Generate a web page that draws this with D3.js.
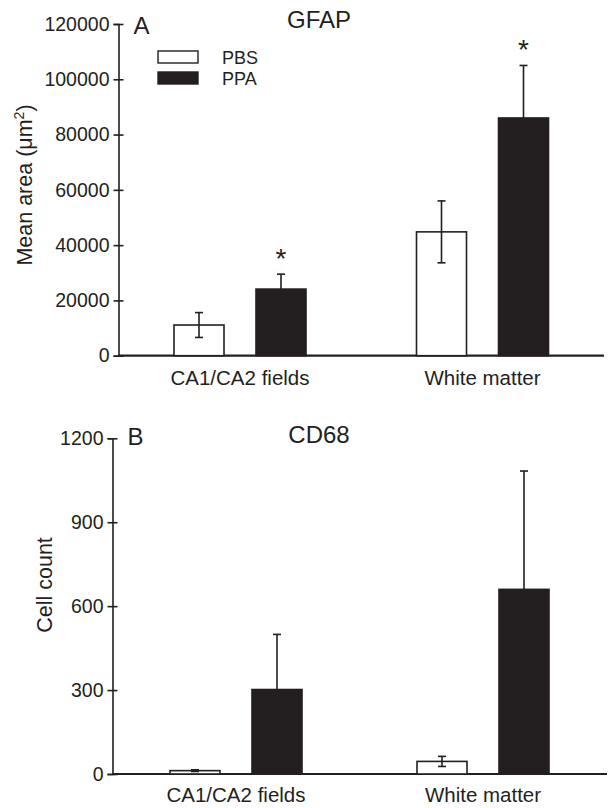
<!DOCTYPE html>
<html>
<head>
<meta charset="utf-8">
<script src="https://cdn.jsdelivr.net/npm/d3@7"></script>
<style>
  body { margin: 0; background: #fff; }
  svg text { font-family: "Liberation Sans", Arial, sans-serif; fill: #231f20; }
</style>
</head>
<body>
<div id="chart"></div>
<script>
// data
var regions = ["CA1/CA2 fields", "White matter"];
var groups = ["PBS", "PPA"];

// panel A - GFAP mean area
var gfapMean = [[11100, 24100], [44800, 86000]];
var gfapErr  = [[4500, 5400], [11200, 19000]];
var gfapStar = [[false, true], [false, true]];
var gfapTicks = [0, 20000, 40000, 60000, 80000, 100000, 120000];

// panel B - CD68 cell count
var cd68Mean = [[12, 302], [45, 660]];
var cd68Err  = [[3, 197], [18, 423]];
var cd68Star = [[false, false], [false, false]];
var cd68Ticks = [0, 300, 600, 900, 1200];

var ink = "#231f20";
var W = 611, H = 808;

var svg = d3.select("#chart").append("svg")
  .attr("width", W).attr("height", H);

function panel(opt) {
  var g = svg.append("g");
  var y = d3.scaleLinear().domain([0, opt.max]).range([opt.y0, opt.y1]);
  var x0 = d3.scalePoint().domain(regions).range(opt.groupRange);
  var x1 = d3.scalePoint().domain(groups).range([-41, 41]);
  var bw = 50;

  // y axis
  var axis = d3.axisLeft(y).tickValues(opt.ticks).tickSize(5).tickPadding(6)
    .tickFormat(d3.format("d"));
  var ag = g.append("g").attr("transform", "translate(" + opt.axisX + ",0)").call(axis);
  ag.select(".domain").attr("stroke", ink).attr("stroke-width", 1.6);
  ag.selectAll(".tick line").attr("stroke", ink).attr("stroke-width", 1.6).attr("x2", 5).attr("x1", -5);
  ag.selectAll(".tick text").style("font-size", "19.5px").attr("x", -9).style("fill", ink);

  // baseline
  g.append("line")
    .attr("x1", opt.axisX).attr("x2", opt.baseEnd)
    .attr("y1", y(0)).attr("y2", y(0))
    .attr("stroke", ink).attr("stroke-width", 2.2);

  var rows = [];
  regions.forEach(function(r, i) {
    groups.forEach(function(s, j) {
      rows.push({region: r, group: s, m: opt.mean[i][j], e: opt.err[i][j], star: opt.star[i][j]});
    });
  });

  var bars = g.selectAll(".bar").data(rows).enter().append("g");
  bars.append("rect")
    .attr("x", function(d) { return x0(d.region) + x1(d.group) - bw / 2; })
    .attr("y", function(d) { return y(d.m); })
    .attr("width", bw)
    .attr("height", function(d) { return y(0) - y(d.m); })
    .attr("fill", function(d) { return d.group == "PPA" ? ink : "#fff"; })
    .attr("stroke", ink).attr("stroke-width", 1.6);

  // error bars: PBS both ways, PPA upward only
  bars.each(function(d) {
    var cx = x0(d.region) + x1(d.group);
    var top = y(d.m + d.e);
    var bot = d.group == "PPA" ? y(d.m) : y(d.m - d.e);
    var s = d3.select(this);
    s.append("line").attr("x1", cx).attr("x2", cx).attr("y1", top).attr("y2", bot)
      .attr("stroke", ink).attr("stroke-width", 1.6);
    s.append("line").attr("x1", cx - 4).attr("x2", cx + 4).attr("y1", top).attr("y2", top)
      .attr("stroke", ink).attr("stroke-width", 1.6);
    if (d.group == "PBS")
      s.append("line").attr("x1", cx - 4).attr("x2", cx + 4).attr("y1", bot).attr("y2", bot)
        .attr("stroke", ink).attr("stroke-width", 1.6);
    if (d.star)
      s.append("text").attr("x", cx).attr("y", top - 6)
        .attr("text-anchor", "middle").style("font-size", "28px").text("*");
  });

  // category labels
  g.selectAll(".cat").data(regions).enter().append("text")
    .attr("x", function(d) { return x0(d); })
    .attr("y", opt.catY)
    .attr("text-anchor", "middle").style("font-size", "20.5px")
    .text(function(d) { return d; });

  // panel letter and title
  g.append("text").attr("x", opt.axisX + 15).attr("y", opt.letterY)
    .style("font-size", "24px").text(opt.letter);
  g.append("text").attr("x", 319).attr("y", opt.titleY)
    .attr("text-anchor", "middle").style("font-size", "24px").text(opt.title);

  return {g: g, y: y};
}

var pA = panel({
  max: 120000, y0: 355.7, y1: 24, ticks: gfapTicks,
  axisX: 118.5, baseEnd: 604, groupRange: [240, 482.5],
  mean: gfapMean, err: gfapErr, star: gfapStar,
  catY: 385, letter: "A", letterY: 34, title: "GFAP", titleY: 28
});

var pB = panel({
  max: 1200, y0: 774, y1: 438.3, ticks: cd68Ticks,
  axisX: 112.5, baseEnd: 607, groupRange: [236, 483],
  mean: cd68Mean, err: cd68Err, star: cd68Star,
  catY: 802, letter: "B", letterY: 445, title: "CD68", titleY: 443
});

// y axis titles
var ya = svg.append("text")
  .attr("transform", "translate(32,185) rotate(-90)")
  .attr("text-anchor", "middle").style("font-size", "21.5px");
ya.append("tspan").text("Mean area (\u03bcm");
ya.append("tspan").style("font-size", "14px").attr("dy", -8).text("2");
ya.append("tspan").attr("dy", 8).text(")");

svg.append("text")
  .attr("transform", "translate(52,585) rotate(-90)")
  .attr("text-anchor", "middle").style("font-size", "21.5px")
  .text("Cell count");

// legend
var legend = svg.append("g");
legend.selectAll("rect").data(groups).enter().append("rect")
  .attr("x", 158).attr("y", function(d, i) { return 51 + i * 21; })
  .attr("width", 40).attr("height", 12)
  .attr("fill", function(d) { return d == "PPA" ? ink : "#fff"; })
  .attr("stroke", ink).attr("stroke-width", 1.4);
legend.selectAll("text").data(groups).enter().append("text")
  .attr("x", 222).attr("y", function(d, i) { return 64 + i * 21; })
  .style("font-size", "18px").text(function(d) { return d; });
</script>
</body>
</html>
